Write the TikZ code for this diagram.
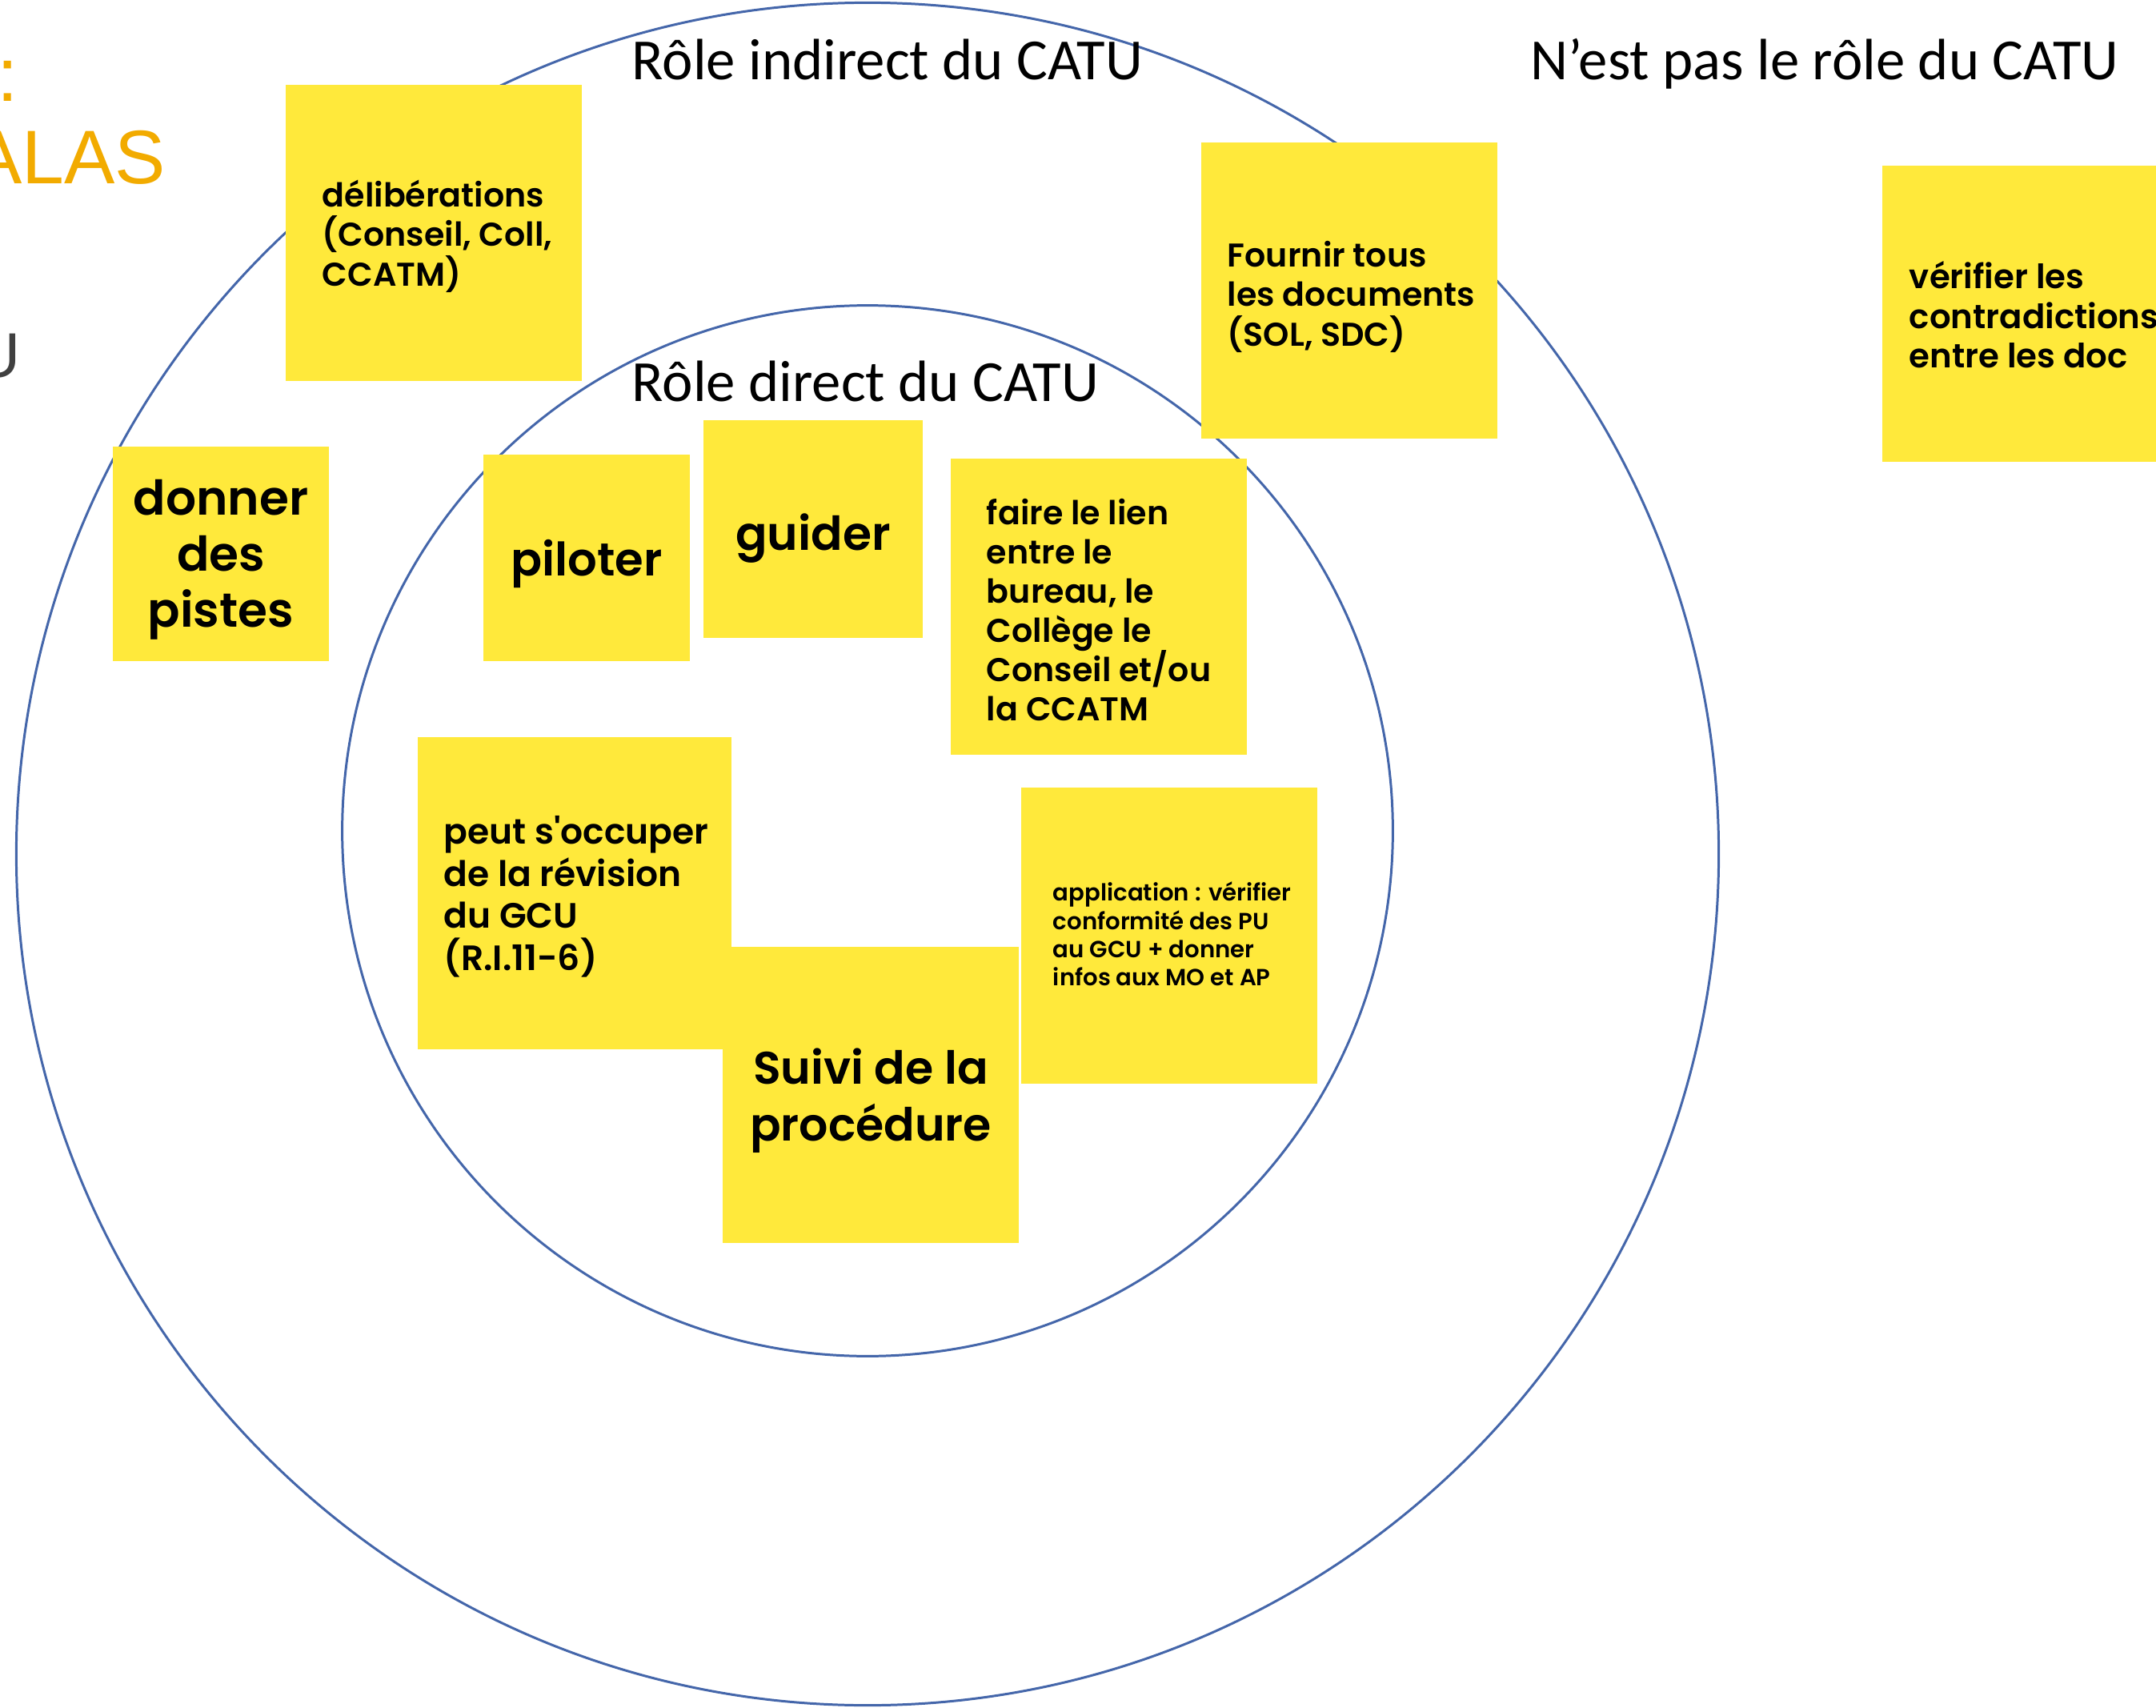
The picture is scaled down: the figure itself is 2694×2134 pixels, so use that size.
\documentclass[tikz,border=0pt]{standalone}
\usepackage{fontspec}
\setmainfont{Carlito}
\newfontfamily\notefont{Poppins}[BoldFont={Poppins SemiBold}]
\newfontfamily\slidefont{Liberation Sans}
\usetikzlibrary{positioning}

\definecolor{ringblue}{RGB}{68,102,170}
\definecolor{postit}{RGB}{255,233,59}
\definecolor{slideorange}{RGB}{242,171,0}
\setlength{\lineskiplimit}{-10pt}

\begin{document}
\begin{tikzpicture}[x=0.01cm,y=-0.01cm]
\tikzstyle{ring}=[draw=ringblue,line width=0.85pt]
\tikzstyle{note}=[rectangle,fill=postit,inner sep=0pt,minimum width=3.7cm,minimum height=3.7cm]
\tikzstyle{note text}=[inner sep=0pt,align=left,yshift=-1.2pt,font=\notefont\bfseries\fontsize{11.7}{14.1}\selectfont]
\tikzstyle{big text}=[inner sep=0pt,align=center,yshift=-2pt,font=\notefont\bfseries\fontsize{16.6}{19.9}\selectfont]
\tikzstyle{title}=[inner sep=0pt,anchor=base west,font=\fontsize{20.7}{24}\selectfont]
\tikzstyle{slide}=[inner sep=0pt,font=\slidefont\fontsize{27}{32}\selectfont,text=slideorange]
\useasboundingbox (0,0) rectangle (2694,2134);

% cut-off slide text on the left
\node[slide,anchor=base west] (colon) at (-4,127) {:};
\node[slide,anchor=base east] (alas) at (208,230) {ALAS};
\node[slide,anchor=base west,text=black!75,font=\slidefont\fontsize{22.5}{26}\selectfont] (lastu) at (-32,472) {U};

% rings
\draw[ring] (1084,1067) circle[radius=10.63cm];
\draw[ring] (1084,1038) circle[radius=6.56cm];

\node[title] (indirect) at (789,100) {Rôle indirect du CATU};
\node[title] (notrole) at (1912,100) {N’est pas le rôle du CATU};
\node[title] (direct) at (789,502) {Rôle direct du CATU};

% outer ring
\node[note] (delib) at (542,291) {};
\node[note text,right=0.46cm of delib.west] (delib-txt) {délibérations\\(Conseil, Coll,\\CCATM)};
\node[note] (docs) at (1686,363) {};
\node[note text,right=0.33cm of docs.west,yshift=-1pt] (docs-txt) {Fournir tous\\les documents\\(SOL, SDC)};
\node[note,minimum width=2.7cm,minimum height=2.68cm] (pistes) at (276,692) {};
\node[big text,font=\notefont\bfseries\fontsize{17}{19.9}\selectfont] (pistes-txt) at (pistes) {donner\\des\\pistes};

% outside
\node[note] (contra) at (2537,392) {};
\node[note text,right=0.34cm of contra.west,yshift=0.8pt,font=\notefont\bfseries\fontsize{11.9}{14.1}\selectfont] (contra-txt) {vérifier les\\contradictions\\entre les doc};

% inner ring
\node[note,minimum width=2.58cm,minimum height=2.58cm] (piloter) at (733,697) {};
\node[big text,font=\notefont\bfseries\fontsize{16.4}{19.9}\selectfont] (piloter-txt) at (piloter) {piloter};
\node[note,minimum width=2.73cm,minimum height=2.71cm] (guider) at (1016,661) {};
\node[big text,yshift=-1.2pt] (guider-txt) at (guider) {guider};
\node[note] (lien) at (1373,758) {};
\node[note text,right=0.45cm of lien.west,yshift=0pt,font=\notefont\bfseries\fontsize{11.7}{13.9}\selectfont] (lien-txt) {faire le lien\\entre le\\bureau, le\\Collège le\\Conseil et/ou\\la CCATM};
\node[note,minimum width=3.92cm,minimum height=3.9cm] (gcu) at (718,1116) {};
\node[note text,right=0.33cm of gcu.west,font=\notefont\bfseries\fontsize{12.5}{15}\selectfont] (gcu-txt) {peut s'occuper\\de la révision\\du GCU\\(R.I.11-6)};
\node[note] (suivi) at (1088,1368) {};
\node[big text,font=\notefont\bfseries\fontsize{16.2}{20}\selectfont] (suivi-txt) at (suivi) {Suivi de la\\procédure};
\node[note] (appli) at (1461,1169) {};
\node[note text,right=0.4cm of appli.west,yshift=1.8pt,font=\notefont\bfseries\fontsize{8.3}{10}\selectfont] (appli-txt) {application : vérifier\\conformité des PU\\au GCU + donner\\infos aux MO et AP};
\end{tikzpicture}
\end{document}
